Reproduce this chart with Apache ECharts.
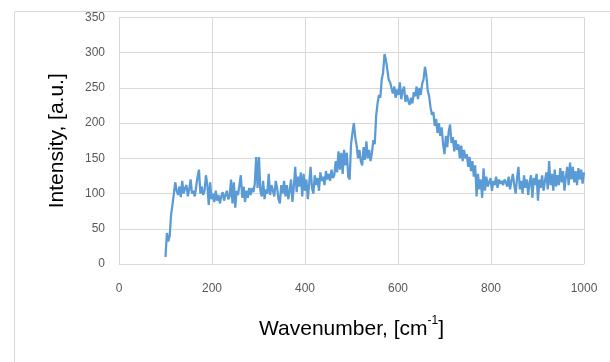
<!DOCTYPE html>
<html>
<head>
<meta charset="utf-8">
<script src="https://cdn.jsdelivr.net/npm/echarts@6/dist/echarts.min.js"></script>
<style>
html,body{margin:0;padding:0;background:#fff;}
#chart{width:610px;height:362px;}
</style>
</head>
<body>
<div id="chart"></div>
<script>
const xTicks = [0, 200, 400, 600, 800, 1000];
const yTicks = [0, 50, 100, 150, 200, 250, 300, 350];

const wavenumber = [
100,103,106,109,112,115,118,121,124,127,130,133,136,139,142,145,148,151,154,157,160,
163,166,169,172,175,178,181,184,187,190,193,196,199,202,205,208,211,214,217,220,
223,226,229,232,235,238,241,244,247,250,253,256,259,262,265,268,271,274,277,280,
283,286,289,292,295,298,301,304,307,310,313,316,319,322,325,328,331,334,337,340,
343,346,349,352,355,358,361,364,367,370,373,376,379,382,385,388,391,394,397,400,
403,406,409,412,415,418,421,424,427,430,433,436,439,442,445,448,451,454,457,460,
463,466,469,472,475,478,481,484,487,490,493,496,499,502,505,508,511,514,517,520,
523,526,529,532,535,538,541,544,547,550,553,556,559,562,565,568,571,574,577,580,
583,586,589,592,595,598,601,604,607,610,613,616,619,622,625,628,631,634,637,640,
643,646,649,652,655,658,661,664,667,670,673,676,679,682,685,688,691,694,697,700,
703,706,709,712,715,718,721,724,727,730,733,736,739,742,745,748,751,754,757,760,
763,766,769,772,775,778,781,784,787,790,793,796,799,802,805,808,811,814,817,820,
823,826,829,832,835,838,841,844,847,850,853,856,859,862,865,868,871,874,877,880,
883,886,889,892,895,898,901,904,907,910,913,916,919,922,925,928,931,934,937,940,
943,946,949,952,955,958,961,964,967,970,973,976,979,982,985,988,991,994,997,1000
];

const intensity = [
10,44,32,40,70,84,86,116,104,98,110,95,118,100,108,112,96,106,120,100,104,
96,110,124,134,100,110,98,104,126,112,84,116,92,100,88,104,90,98,86,96,
102,90,98,104,92,96,120,86,116,80,104,98,112,126,94,110,88,104,94,108,
98,108,102,114,152,108,152,104,96,118,92,106,100,128,98,112,104,96,118,108,
92,86,112,100,118,96,112,92,104,120,88,110,138,102,124,110,130,96,128,104,
120,92,114,138,108,100,126,112,122,104,130,118,124,112,132,120,128,118,134,122,
126,146,130,160,134,158,128,162,140,158,124,120,170,186,200,180,168,150,162,146,
140,166,148,174,150,162,146,158,176,170,210,228,240,236,262,272,298,290,276,262,
258,250,242,252,236,248,240,258,234,246,252,230,240,232,226,236,228,244,238,252,
234,250,240,256,262,280,268,246,238,222,212,216,196,206,186,200,182,194,170,156,
182,166,188,198,172,180,160,176,162,170,150,168,146,162,150,156,138,152,132,146,
124,140,96,128,106,120,94,136,104,124,110,116,122,104,118,112,124,108,120,114,
118,112,120,116,110,124,106,118,128,112,100,122,138,106,118,100,126,108,120,98,
116,126,94,122,112,128,90,120,108,126,104,118,130,106,146,112,128,104,134,110,
126,112,136,116,132,104,124,138,112,144,120,138,116,132,112,136,120,134,114,130
];

const seriesData = wavenumber.map((x, i) => [x, intensity[i]]);

const chart = echarts.init(document.getElementById('chart'), null, {renderer: 'canvas'});
const labelColor = '#595959';
const gridColor = '#d9d9d9';
const fontFam = '"Liberation Sans", Arial, sans-serif';

chart.setOption({
  backgroundColor: '#ffffff',
  animation: false,
  graphic: [{
    type: 'rect',
    left: 12, top: 9,
    shape: {width: 596, height: 360},
    style: {fill: 'none', stroke: '#d9d9d9', lineWidth: 1},
    silent: true
  }],
  grid: {left: 119, right: 26, top: 17.5, bottom: 98, containLabel: false},
  xAxis: {
    type: 'value',
    min: xTicks[0], max: xTicks[xTicks.length - 1], interval: 200,
    name: '{a|Wavenumber, [cm}{s|-1}{a|]}',
    nameLocation: 'middle',
    nameGap: 51,
    nameTextStyle: {
      rich: {
        a: {fontSize: 21, color: '#000', fontFamily: fontFam, verticalAlign: 'bottom', lineHeight: 25},
        s: {fontSize: 12, color: '#000', fontFamily: fontFam, verticalAlign: 'top', padding: [0, 0, 13, 0], lineHeight: 25}
      }
    },
    axisLine: {show: true, lineStyle: {color: gridColor, width: 1}},
    axisTick: {show: false},
    axisLabel: {color: labelColor, fontSize: 12, fontFamily: fontFam, margin: 19, formatter: v => String(v)},
    splitLine: {show: true, lineStyle: {color: gridColor, width: 1}}
  },
  yAxis: {
    type: 'value',
    min: yTicks[0], max: yTicks[yTicks.length - 1], interval: 50,
    name: 'Intensity, [a.u.]',
    nameLocation: 'middle',
    nameGap: 51,
    nameTextStyle: {fontSize: 21, color: '#000', fontFamily: fontFam},
    axisLine: {show: true, lineStyle: {color: gridColor, width: 1}},
    axisTick: {show: false},
    axisLabel: {color: labelColor, fontSize: 12, fontFamily: fontFam, margin: 14, formatter: v => String(v)},
    splitLine: {show: true, lineStyle: {color: gridColor, width: 1}}
  },
  series: [{
    type: 'line',
    data: seriesData,
    showSymbol: false,
    symbol: 'none',
    lineStyle: {color: '#5b9bd5', width: 2.25},
    itemStyle: {color: '#5b9bd5'}
  }]
});
</script>
</body>
</html>
